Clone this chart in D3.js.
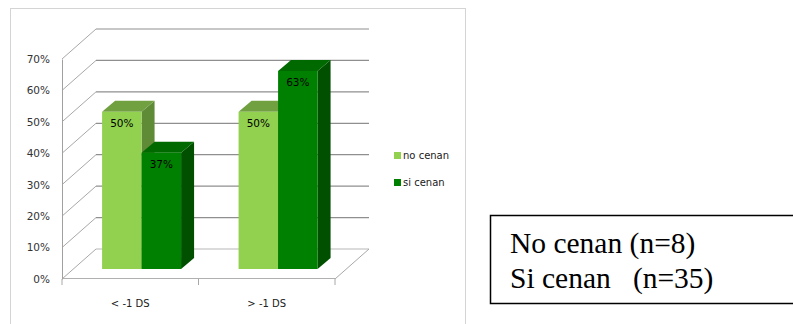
<!DOCTYPE html>
<html>
<head>
<meta charset="utf-8">
<script src="https://cdn.jsdelivr.net/npm/d3@7"></script>
<style>
  html, body { margin: 0; padding: 0; background: #fff; }
  svg { display: block; }
  .note { white-space: pre; }
</style>
</head>
<body>
<svg id="chart" width="793" height="324"></svg>
<script>
// Categories and series (percent)
const categories = ["< -1 DS", "> -1 DS"];
const seriesNames = ["no cenan", "si cenan"];
const noCenan = [50, 50];
const siCenan = [37, 63];
const yTicks = [0, 10, 20, 30, 40, 50, 60, 70];
const noteLines = ["No cenan (n=8)", "Si cenan   (n=35)"];

const values = [noCenan, siCenan];
const palette = [
  { front: "#92d050", top: "#70a040", side: "#5f8a36" },
  { front: "#008000", top: "#006a00", side: "#005000" }
];

const svg = d3.select("#chart");
const font = "'DejaVu Sans', Verdana, sans-serif";

// Chart frame
svg.append("rect")
  .attr("x", 10.5).attr("y", 8.5)
  .attr("width", 455).attr("height", 340)
  .attr("fill", "#fff").attr("stroke", "#d4d4d4");

// 3D geometry: front plane scales + depth offset to back wall
const depth = { dx: 34, dy: -30 };
const y = d3.scaleLinear().domain([0, 70]).range([279, 59]);
const x = d3.scaleBand().domain(categories).range([62, 335]).padding(0);
const groupW = 79;
const sub = d3.scaleBand().domain(seriesNames).range([0, groupW]).padding(0);
const barFrac = 1 / 3;             // bars stand one third into the depth
const barOff = { dx: depth.dx * barFrac, dy: depth.dy * barFrac };
const barDepth = { dx: 13, dy: -11 };

const walls = svg.append("g");

// Back wall gridlines
walls.selectAll("line.grid").data(yTicks).join("line")
  .attr("class", "grid")
  .attr("x1", x.range()[0] + depth.dx).attr("x2", x.range()[1] + depth.dx)
  .attr("y1", d => y(d) + depth.dy).attr("y2", d => y(d) + depth.dy)
  .attr("stroke", d => d === 0 ? "#b8b8b8" : "#8f8f8f")
  .attr("stroke-width", 1.2);

// Side wall diagonals
walls.selectAll("line.diag").data(yTicks).join("line")
  .attr("class", "diag")
  .attr("x1", x.range()[0]).attr("x2", x.range()[0] + depth.dx)
  .attr("y1", d => y(d)).attr("y2", d => y(d) + depth.dy)
  .attr("stroke", "#a8a8a8").attr("stroke-width", 1);

// Floor outline
walls.append("line")
  .attr("x1", x.range()[1]).attr("y1", y(0))
  .attr("x2", x.range()[1] + depth.dx).attr("y2", y(0) + depth.dy)
  .attr("stroke", "#a8a8a8");
walls.append("line")
  .attr("x1", x.range()[0]).attr("y1", y(0) - 0.5)
  .attr("x2", x.range()[1]).attr("y2", y(0) - 0.5)
  .attr("stroke", "#b0b0b0");

// Vertical axis
const yAxis = d3.axisLeft(y).tickValues(yTicks).tickFormat(d => d + "%").tickSize(0).tickPadding(12);
const ya = svg.append("g").attr("transform", `translate(${x.range()[0]},0)`).call(yAxis);
ya.select(".domain").attr("stroke", "#a0a0a0");
ya.selectAll("text").attr("font-family", font).attr("font-size", 10.5).attr("fill", "#333");

// Horizontal axis
const xTickPos = [x.range()[0], ...categories.map(c => x(c) + x.bandwidth())];
svg.append("g").selectAll("line").data(xTickPos).join("line")
  .attr("x1", d => d).attr("x2", d => d)
  .attr("y1", y(0)).attr("y2", y(0) + 6)
  .attr("stroke", "#a8a8a8");
svg.append("g").selectAll("text").data(categories).join("text")
  .attr("x", d => x(d) + x.bandwidth() / 2)
  .attr("y", 307)
  .attr("text-anchor", "middle")
  .attr("font-family", font).attr("font-size", 10).attr("fill", "#202020")
  .text(d => d);

// Bars
const bars = [];
categories.forEach((c, i) => {
  seriesNames.forEach((s, j) => {
    bars.push({ cat: c, series: s, j, value: values[j][i] });
  });
});

const barG = svg.append("g").selectAll("g").data(bars).join("g");
const geom = d => {
  const x0 = x(d.cat) + (x.bandwidth() - groupW) / 2 + sub(d.series) + barOff.dx;
  const x1 = x0 + sub.bandwidth();
  const yb = y(0) + barOff.dy;
  const yt = y(d.value) + barOff.dy;
  return { x0, x1, yb, yt };
};
// side face
barG.append("path")
  .attr("d", d => {
    const g = geom(d);
    return `M${g.x1},${g.yb}L${g.x1 + barDepth.dx},${g.yb + barDepth.dy}L${g.x1 + barDepth.dx},${g.yt + barDepth.dy}L${g.x1},${g.yt}Z`;
  })
  .attr("fill", d => palette[d.j].side);
// top face
barG.append("path")
  .attr("d", d => {
    const g = geom(d);
    return `M${g.x0},${g.yt}L${g.x0 + barDepth.dx},${g.yt + barDepth.dy}L${g.x1 + barDepth.dx},${g.yt + barDepth.dy}L${g.x1},${g.yt}Z`;
  })
  .attr("fill", d => palette[d.j].top);
// front face
barG.append("rect")
  .attr("x", d => geom(d).x0)
  .attr("y", d => geom(d).yt)
  .attr("width", sub.bandwidth())
  .attr("height", d => geom(d).yb - geom(d).yt)
  .attr("fill", d => palette[d.j].front);
// value labels
barG.append("text")
  .attr("x", d => (geom(d).x0 + geom(d).x1) / 2)
  .attr("y", d => geom(d).yt + 15)
  .attr("text-anchor", "middle")
  .attr("font-family", font).attr("font-size", 10.5).attr("fill", "#000")
  .text(d => d.value + "%");

// Legend
const legend = svg.append("g").attr("transform", "translate(394,152)");
const li = legend.selectAll("g").data(seriesNames).join("g")
  .attr("transform", (d, i) => `translate(0,${i * 27})`);
li.append("rect").attr("width", 7).attr("height", 7)
  .attr("fill", (d, i) => palette[i].front);
li.append("text").attr("x", 9).attr("y", 7)
  .attr("font-family", font).attr("font-size", 10).attr("fill", "#202020")
  .text(d => d);

// Sample size note
svg.append("rect")
  .attr("x", 490.5).attr("y", 215.5)
  .attr("width", 320).attr("height", 88)
  .attr("fill", "#fff").attr("stroke", "#000").attr("stroke-width", 1.5);
svg.append("g").selectAll("text").data(noteLines).join("text")
  .attr("class", "note")
  .attr("x", 510)
  .attr("y", (d, i) => 253 + i * 35)
  .attr("font-family", "'Liberation Serif', 'Times New Roman', serif")
  .attr("font-size", 29.5)
  .attr("fill", "#000")
  .text(d => d);
</script>
</body>
</html>
